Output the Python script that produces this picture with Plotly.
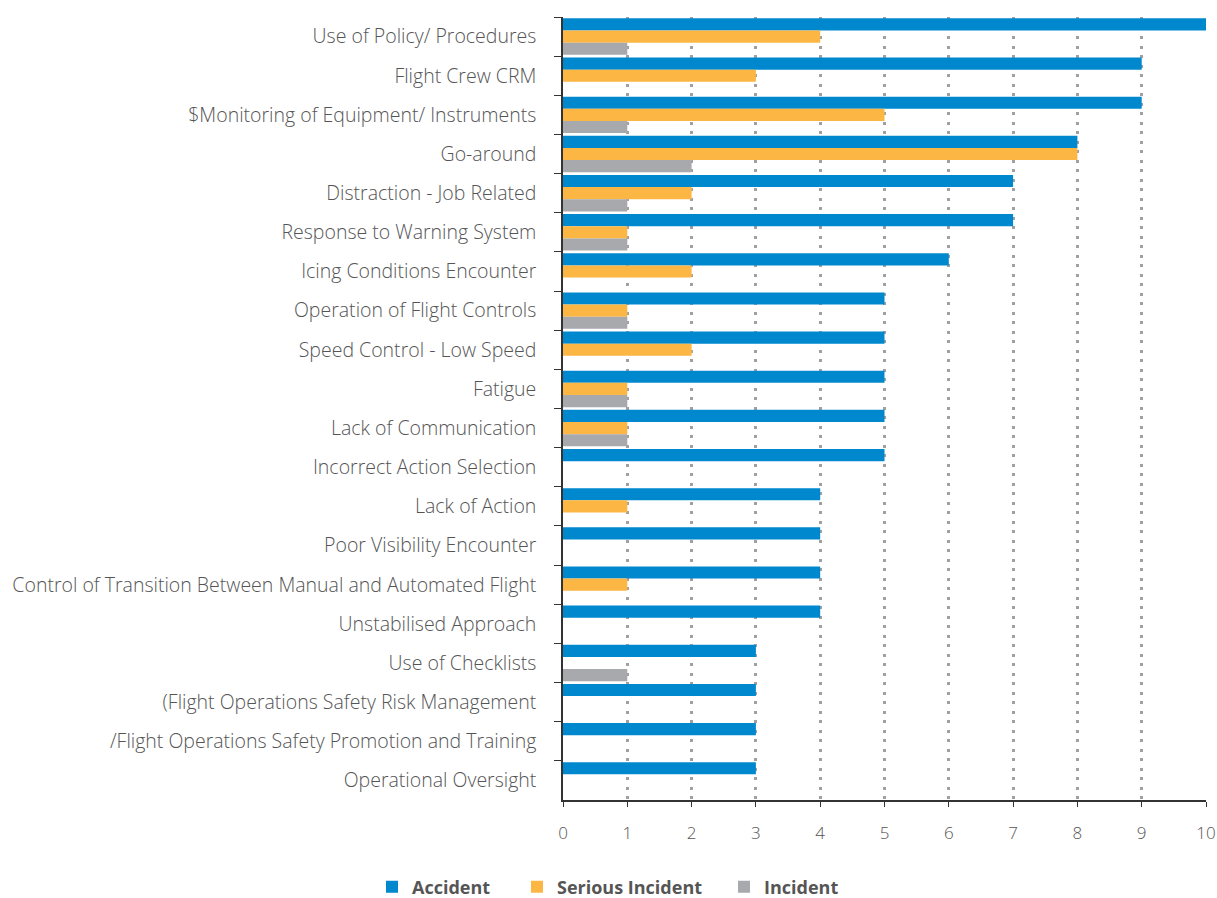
import plotly.graph_objects as go

categories = [
    "Use of Policy/ Procedures",
    "Flight Crew CRM",
    "$Monitoring of Equipment/ Instruments",
    "Go-around",
    "Distraction - Job Related",
    "Response to Warning System",
    "Icing Conditions Encounter",
    "Operation of Flight Controls",
    "Speed Control - Low Speed",
    "Fatigue",
    "Lack of Communication",
    "Incorrect Action Selection",
    "Lack of Action",
    "Poor Visibility Encounter",
    "Control of Transition Between Manual and Automated Flight",
    "Unstabilised Approach",
    "Use of Checklists",
    "(Flight Operations Safety Risk Management",
    "/Flight Operations Safety Promotion and Training",
    "Operational Oversight",
]
accident = [10, 9, 9, 8, 7, 7, 6, 5, 5, 5, 5, 5, 4, 4, 4, 4, 3, 3, 3, 3]
serious_incident = [4, 3, 5, 8, 2, 1, 2, 1, 2, 1, 1, 0, 1, 0, 1, 0, 0, 0, 0, 0]
incident = [1, 0, 1, 2, 1, 1, 0, 1, 0, 1, 1, 0, 0, 0, 0, 0, 1, 0, 0, 0]
x_ticks = list(range(0, 11))

series = [
    ("Accident", accident, "#0088CE", "legend"),
    ("Serious Incident", serious_incident, "#FBB644", "legend2"),
    ("Incident", incident, "#A7A9AC", "legend3"),
]
legend_left_px = {"legend": 372, "legend2": 517, "legend3": 724}

fig = go.Figure()
for name, vals, color, leg in series:
    fig.add_trace(go.Bar(
        name=name, y=categories, x=vals, orientation="h",
        legend=leg, showlegend=True,
        marker=dict(color=color, line=dict(width=0)),
    ))

W, H = 1217, 898
legend_style = dict(
    orientation="h", xref="container", yref="container",
    xanchor="left", y=11 / H, yanchor="middle",
    font=dict(family="Open Sans", size=18, color="#555555", weight="bold"),
    itemwidth=30, bgcolor="rgba(0,0,0,0)",
)

fig.update_layout(
    width=W, height=H, showlegend=True,
    barmode="group", bargap=0.07, bargroupgap=0,
    plot_bgcolor="white", paper_bgcolor="white",
    margin=dict(l=563, r=11, t=17, b=98, autoexpand=False),
    font=dict(family="Open Sans", size=19.5, color="#555555", weight=300),
    legend=dict(x=legend_left_px["legend"] / W, **legend_style),
    legend2=dict(x=legend_left_px["legend2"] / W, **legend_style),
    legend3=dict(x=legend_left_px["legend3"] / W, **legend_style),
    xaxis=dict(
        range=[0, 10], tickvals=x_ticks, showgrid=True, automargin=False,
        gridcolor="#a0a0a0", griddash="3px,6.5px", gridwidth=2.5,
        showline=True, linecolor="#333333", linewidth=1.5,
        ticks="outside", ticklen=5, tickcolor="#333333",
        zeroline=False, tickfont=dict(size=17, color="#555555", weight=300),
        ticklabelstandoff=12,
    ),
    yaxis=dict(
        autorange="reversed", showline=True, linecolor="#333333", linewidth=1.5,
        ticks="outside", tickson="boundaries", ticklen=7, tickcolor="#333333",
        showgrid=False, automargin=False,
        tickfont=dict(size=19.5, color="#555555", weight=300),
        ticklabelstandoff=21,
    ),
)

fig.write_html(
    "out.html",
    config={"displayModeBar": False},
    post_script="document.body.style.margin='0';document.body.style.overflow='hidden';",
)
